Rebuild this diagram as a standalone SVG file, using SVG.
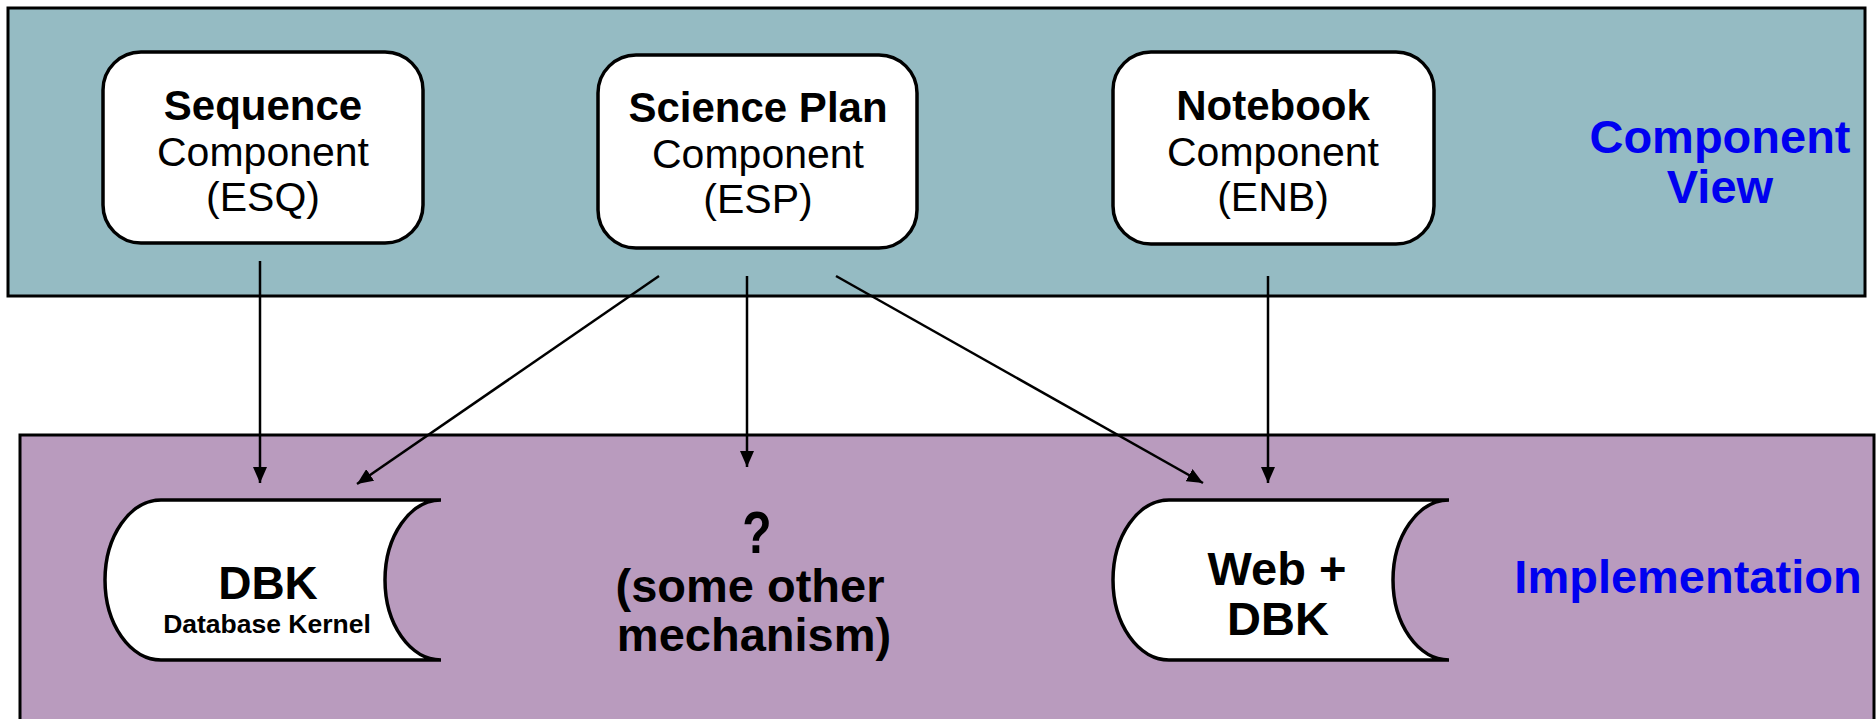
<svg xmlns="http://www.w3.org/2000/svg" width="1876" height="719" viewBox="0 0 1876 719">
<style>
.panel{stroke:#000;stroke-width:3}
.box{fill:#fff;stroke:#000;stroke-width:3.5}
.drum{fill:#fff;stroke:#000;stroke-width:3.5}
.t{font-family:"Liberation Sans",Arial,sans-serif;text-anchor:middle;fill:#000}
.b{font-weight:bold}
.lbl{font-family:"Liberation Sans",Arial,sans-serif;text-anchor:middle;font-weight:bold;fill:#0000f0;font-size:47px}
.conn{stroke:#000;stroke-width:2.5;fill:none;marker-end:url(#arrow)}
</style>
<defs>
<marker id="arrow" viewBox="0 0 16 14" refX="16" refY="7" markerUnits="userSpaceOnUse" markerWidth="16" markerHeight="14" orient="auto">
<path d="M0 0 L16 7 L0 14 z" fill="#000"/>
</marker>
</defs>
<rect width="1876" height="719" fill="#fff"/>
<g id="panel-component-view">
<rect class="panel" x="8" y="8" width="1857" height="288" fill="#95bbc3"/>
<text class="lbl" x="1720" y="153">Component</text>
<text class="lbl" x="1720" y="203">View</text>
</g>
<g id="panel-implementation">
<rect class="panel" x="20" y="435" width="1854" height="300" fill="#b99bbe"/>
<text class="lbl" x="1688" y="593">Implementation</text>
</g>
<g id="connectors">
<line class="conn" x1="260" y1="261" x2="260" y2="483"/>
<line class="conn" x1="659" y1="276" x2="357" y2="484"/>
<line class="conn" x1="747" y1="276" x2="747" y2="467"/>
<line class="conn" x1="836" y1="276" x2="1203" y2="483"/>
<line class="conn" x1="1268" y1="276" x2="1268" y2="483"/>
</g>
<g id="node-esq">
<rect class="box" x="103" y="52" width="320" height="191" rx="38" ry="38"/>
<text class="t b" x="263" y="120" font-size="42">Sequence</text>
<text class="t" x="263" y="166" font-size="41">Component</text>
<text class="t" x="263" y="211" font-size="41">(ESQ)</text>
</g>
<g id="node-esp">
<rect class="box" x="598" y="55" width="319" height="193" rx="38" ry="38"/>
<text class="t b" x="758" y="122" font-size="42">Science Plan</text>
<text class="t" x="758" y="168" font-size="41">Component</text>
<text class="t" x="758" y="213" font-size="41">(ESP)</text>
</g>
<g id="node-enb">
<rect class="box" x="1113" y="52" width="321" height="192" rx="38" ry="38"/>
<text class="t b" x="1273" y="120" font-size="42">Notebook</text>
<text class="t" x="1273" y="166" font-size="41">Component</text>
<text class="t" x="1273" y="211" font-size="41">(ENB)</text>
</g>
<g id="node-dbk">
<path class="drum" d="M161 500 L441 500 A56 80 0 0 0 441 660 L161 660 A56 80 0 0 1 161 500 Z"/>
<text class="t b" x="268" y="599" font-size="46">DBK</text>
<text class="t b" x="267" y="633" font-size="26.5">Database Kernel</text>
</g>
<g id="node-other">
<text class="t b" font-size="60" transform="translate(757 553) scale(0.8 1)">?</text>
<text class="t b" x="750" y="602" font-size="47">(some other</text>
<text class="t b" x="754" y="651" font-size="47">mechanism)</text>
</g>
<g id="node-webdbk">
<path class="drum" d="M1169 500 L1449 500 A56 80 0 0 0 1449 660 L1169 660 A56 80 0 0 1 1169 500 Z"/>
<text class="t b" x="1277" y="585" font-size="47">Web +</text>
<text class="t b" x="1278" y="635" font-size="47">DBK</text>
</g>
</svg>
